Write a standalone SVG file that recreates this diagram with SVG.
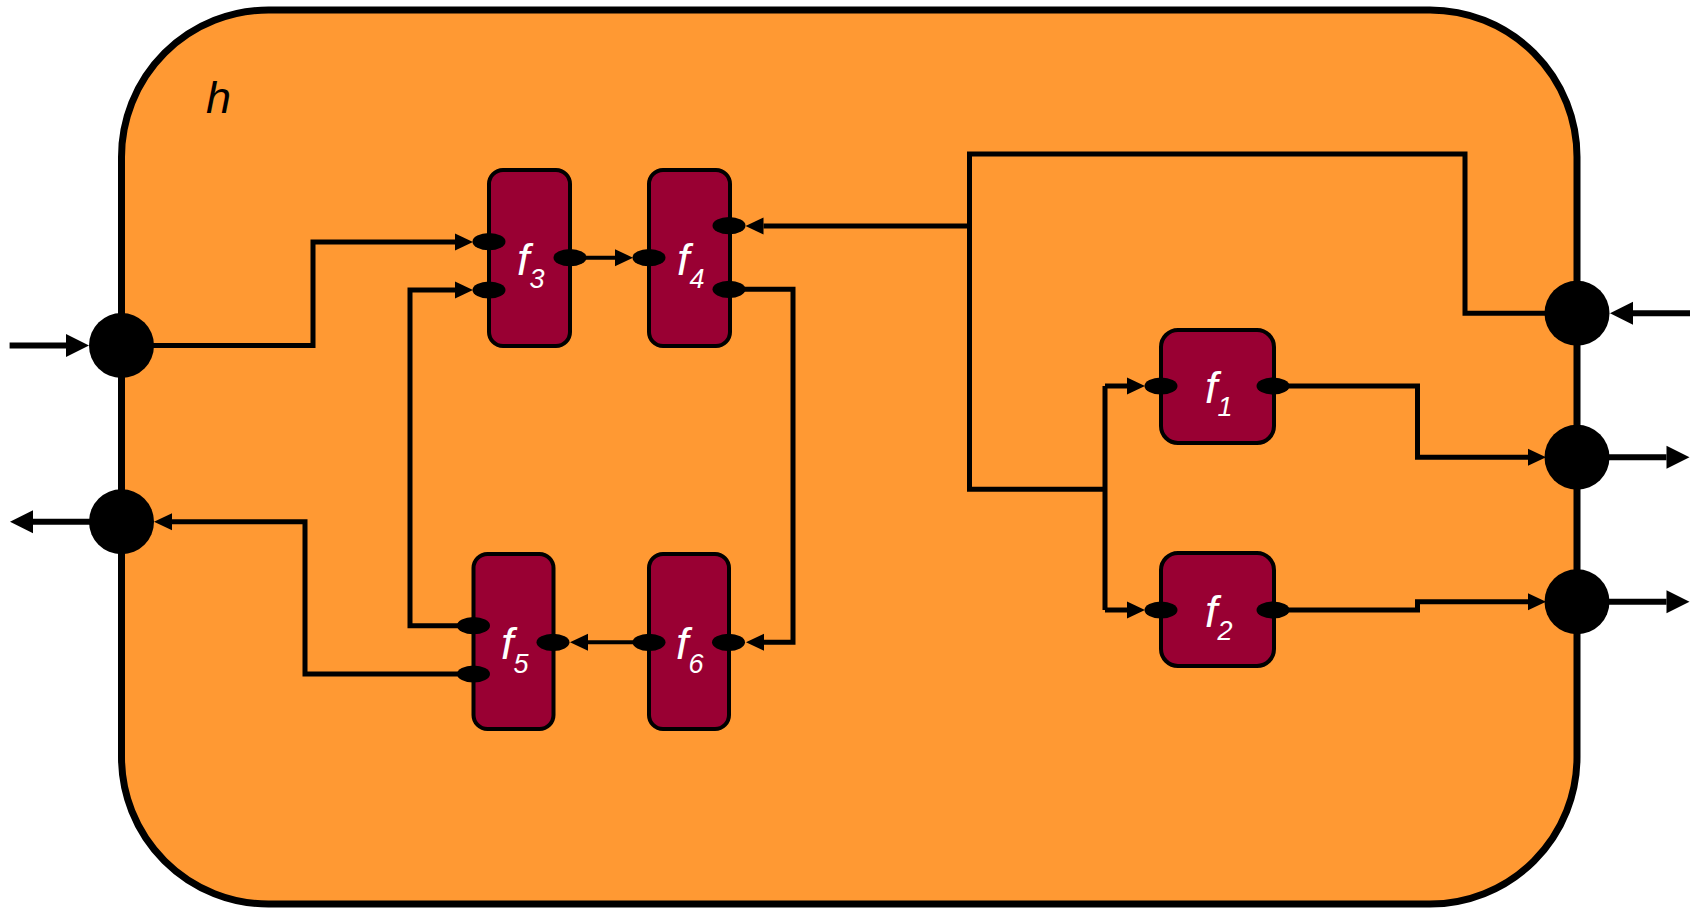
<svg xmlns="http://www.w3.org/2000/svg" width="1696" height="909" viewBox="0 0 1696 909">
  <defs>
    <style>
      .frame { fill: #FF9933; stroke: #000; stroke-width: 7; }
      .func { fill: #990033; stroke: #000; stroke-width: 4; }
      .port { fill: #000; }
      .wire { fill: none; stroke: #000; stroke-width: 5; stroke-linejoin: miter; }
      .thin { stroke-width: 4; }
      .ext { stroke-width: 6; }
      .lbl { font-family: "Liberation Sans", Arial, sans-serif; font-style: italic; font-size: 45px; fill: #fff; }
      .sub { font-size: 27px; }
      .title { font-family: "Liberation Sans", Arial, sans-serif; font-style: italic; font-size: 45px; fill: #000; }
    </style>
    <marker id="arrS" markerUnits="userSpaceOnUse" viewBox="0 -9 18 18" refX="0" refY="0" markerWidth="18" markerHeight="18" orient="auto" overflow="visible">
      <path d="M0,-8.5 L18,0 L0,8.5 z" fill="#000"/>
    </marker>
    <marker id="arrL" markerUnits="userSpaceOnUse" viewBox="0 -12 23 24" refX="0" refY="0" markerWidth="23" markerHeight="24" orient="auto" overflow="visible">
      <path d="M0,-11.5 L23,0 L0,11.5 z" fill="#000"/>
    </marker>
  </defs>

  <!-- enclosing function h -->
  <g id="h">
    <rect class="frame" x="121.5" y="10" width="1455.5" height="894" rx="147" ry="147"/>
    <text class="title" x="206" y="113">h</text>
  </g>

  <!-- wiring -->
  <g id="connectors">
    <!-- external stubs -->
    <path class="wire ext" d="M9.6,345.5 H66" marker-end="url(#arrL)"/>
    <path class="wire ext" d="M121.5,521.7 H33" marker-end="url(#arrL)"/>
    <path class="wire ext" d="M1690,313.3 H1633" marker-end="url(#arrL)"/>
    <path class="wire ext" d="M1577,457.3 H1666.5" marker-end="url(#arrL)"/>
    <path class="wire ext" d="M1577,601.7 H1666.5" marker-end="url(#arrL)"/>

    <!-- left network -->
    <path class="wire" d="M121.5,345.5 H313 V242 H455" marker-end="url(#arrS)"/>
    <path class="wire" d="M473.5,625.7 H410 V290 H455" marker-end="url(#arrS)"/>
    <path class="wire thin" d="M570,257.7 H615" marker-end="url(#arrS)"/>
    <path class="wire" d="M729,289.3 H793 V642.3 H764" marker-end="url(#arrS)"/>
    <path class="wire thin" d="M649,642.3 H588" marker-end="url(#arrS)"/>
    <path class="wire" d="M473.5,674 H305 V521.7 H172" marker-end="url(#arrS)"/>

    <!-- right network -->
    <path class="wire" d="M1577,313.3 H1465 V154 H969.5 V489.3 H1105"/>
    <path class="wire" d="M969.5,226 H763.5" marker-end="url(#arrS)"/>
    <path class="wire" d="M1105,386 V610"/>
    <path class="wire" d="M1105,386 H1127" marker-end="url(#arrS)"/>
    <path class="wire" d="M1105,610 H1127" marker-end="url(#arrS)"/>
    <path class="wire" d="M1273,386 H1417.5 V457.3 H1528" marker-end="url(#arrS)"/>
    <path class="wire" d="M1273,610 H1417.5 V601.7 H1528" marker-end="url(#arrS)"/>
  </g>

  <!-- boundary ports of h -->
  <g id="h-ports">
    <circle class="port" cx="121.5" cy="345.5" r="32.5"/>
    <circle class="port" cx="121.5" cy="521.7" r="32.5"/>
    <circle class="port" cx="1577" cy="313.3" r="32.5"/>
    <circle class="port" cx="1577" cy="457.3" r="32.5"/>
    <circle class="port" cx="1577" cy="601.7" r="32.5"/>
  </g>

  <g id="f3">
    <rect class="func" x="489" y="170" width="81" height="176" rx="14"/>
    <ellipse class="port" cx="489" cy="241.7" rx="16.5" ry="8.6"/>
    <ellipse class="port" cx="489" cy="290" rx="16.5" ry="8.6"/>
    <ellipse class="port" cx="570" cy="257.7" rx="16.5" ry="8.6"/>
    <text class="lbl" x="517" y="275">f<tspan class="sub" dy="13">3</tspan></text>
  </g>

  <g id="f4">
    <rect class="func" x="649" y="170" width="81" height="176" rx="14"/>
    <ellipse class="port" cx="649" cy="257.7" rx="16.5" ry="8.6"/>
    <ellipse class="port" cx="729" cy="225.7" rx="16.5" ry="8.6"/>
    <ellipse class="port" cx="729" cy="289.3" rx="16.5" ry="8.6"/>
    <text class="lbl" x="677" y="275">f<tspan class="sub" dy="13">4</tspan></text>
  </g>

  <g id="f5">
    <rect class="func" x="473.5" y="554" width="80" height="175" rx="14"/>
    <ellipse class="port" cx="473.5" cy="625.7" rx="16.5" ry="8.6"/>
    <ellipse class="port" cx="473.5" cy="674" rx="16.5" ry="8.6"/>
    <ellipse class="port" cx="553" cy="642.3" rx="16.5" ry="8.6"/>
    <text class="lbl" x="501" y="658.5">f<tspan class="sub" dy="14">5</tspan></text>
  </g>

  <g id="f6">
    <rect class="func" x="649" y="554" width="80" height="175" rx="14"/>
    <ellipse class="port" cx="649" cy="642.3" rx="16.5" ry="8.6"/>
    <ellipse class="port" cx="728.5" cy="642.3" rx="16.5" ry="8.6"/>
    <text class="lbl" x="676" y="658.5">f<tspan class="sub" dy="14">6</tspan></text>
  </g>

  <g id="f1">
    <rect class="func" x="1161" y="330" width="113" height="113" rx="17"/>
    <ellipse class="port" cx="1161" cy="386" rx="16.5" ry="8.6"/>
    <ellipse class="port" cx="1273" cy="386" rx="16.5" ry="8.6"/>
    <text class="lbl" x="1205" y="403">f<tspan class="sub" dy="13">1</tspan></text>
  </g>

  <g id="f2">
    <rect class="func" x="1161" y="553" width="113" height="113" rx="17"/>
    <ellipse class="port" cx="1161" cy="610" rx="16.5" ry="8.6"/>
    <ellipse class="port" cx="1273" cy="610" rx="16.5" ry="8.6"/>
    <text class="lbl" x="1205" y="627">f<tspan class="sub" dy="13">2</tspan></text>
  </g>
</svg>
